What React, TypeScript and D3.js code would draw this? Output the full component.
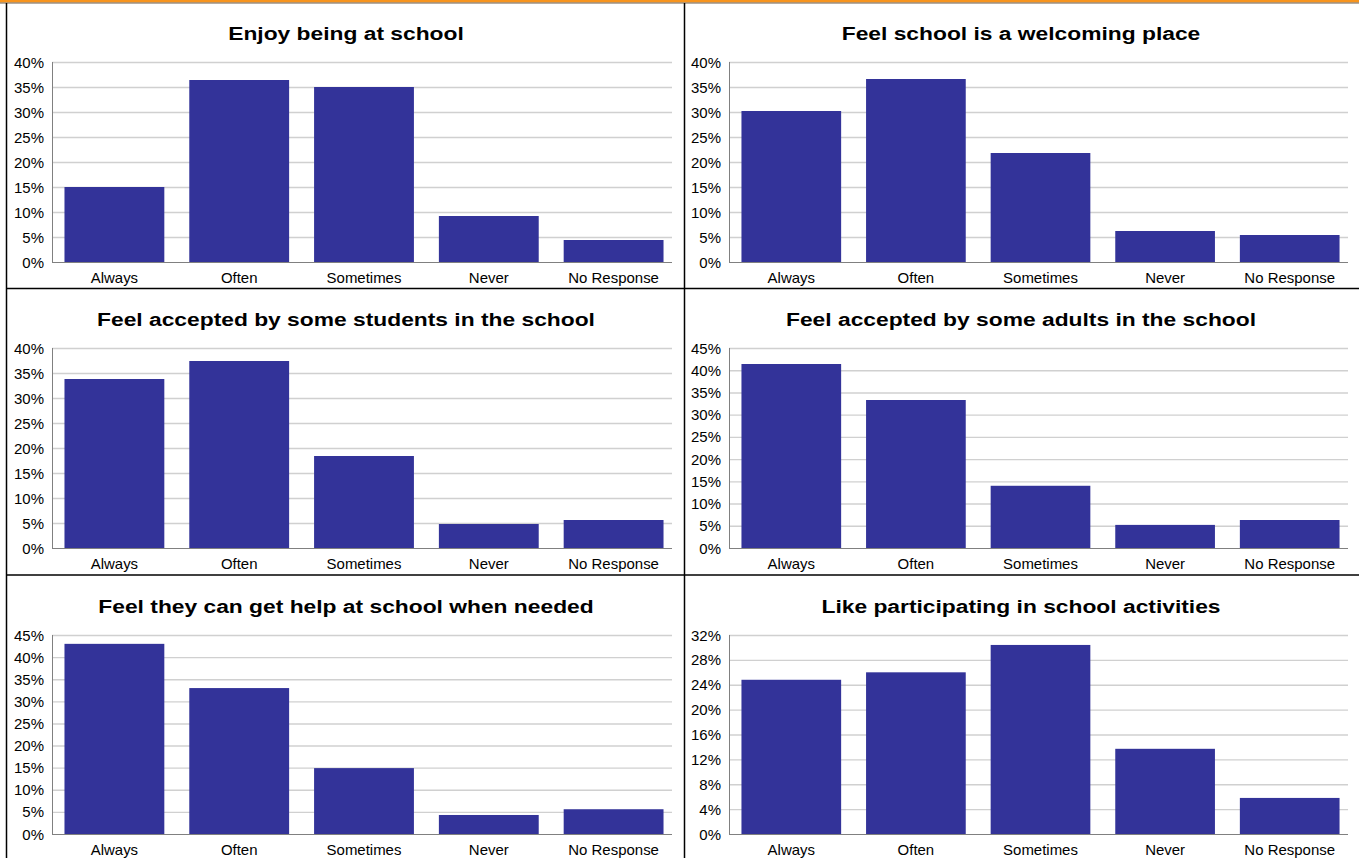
import React from "react";
import * as d3 from "d3";

const categories = ["Always", "Often", "Sometimes", "Never", "No Response"];

const titles = [
  "Enjoy being at school",
  "Feel school is a welcoming place",
  "Feel accepted by some students in the school",
  "Feel accepted by some adults in the school",
  "Feel they can get help at school when needed",
  "Like participating in school activities",
];

const enjoyValues = [15.0, 36.4, 35.0, 9.2, 4.4];
const welcomingValues = [30.2, 36.6, 21.8, 6.2, 5.4];
const studentsValues = [33.8, 37.4, 18.4, 4.8, 5.6];
const adultsValues = [41.4, 33.3, 14.0, 5.2, 6.3];
const helpValues = [43.0, 33.0, 14.9, 4.3, 5.6];
const activitiesValues = [24.8, 26.0, 30.4, 13.7, 5.8];

const ticks40 = [0, 5, 10, 15, 20, 25, 30, 35, 40];
const ticks45 = [0, 5, 10, 15, 20, 25, 30, 35, 40, 45];
const ticks32 = [0, 4, 8, 12, 16, 20, 24, 28, 32];

const series = [enjoyValues, welcomingValues, studentsValues, adultsValues, helpValues, activitiesValues];
const tickSets = [ticks40, ticks40, ticks40, ticks45, ticks45, ticks32];

const W = 1359;
const H = 858;
const colX = [[52, 676], [729, 1352]];
const colCenter = [346, 1021];
const rowY = [[62, 262], [348, 548], [635, 834]];
const titleY = [40, 326, 613];

const FONT = "'Liberation Sans', Arial, sans-serif";

function SText({
  x, y, sx, size, anchor, bold, children,
}: { x: number; y: number; sx: number; size: number; anchor: string; bold?: boolean; children: React.ReactNode }) {
  return (
    <text
      transform={`translate(${x},${y}) scale(${sx},1)`}
      textAnchor={anchor}
      fontFamily={FONT}
      fontWeight={bold ? "bold" : "normal"}
      fontSize={size}
      fill="#000"
    >
      {children}
    </text>
  );
}

function Panel({ idx }: { idx: number }) {
  const col = idx % 2;
  const row = Math.floor(idx / 2);
  const [x0, x1] = colX[col];
  const [yTop, yBot] = rowY[row];
  const ticks = tickSets[idx];
  const values = series[idx];
  const x = d3.scaleBand<string>().domain(categories).range([x0, x1]).paddingInner(0.2).paddingOuter(0.1);
  const y = d3.scaleLinear().domain([0, ticks[ticks.length - 1]]).range([yBot, yTop]);
  return (
    <g>
      <SText x={colCenter[col]} y={titleY[row]} sx={1.22} size={18.7} anchor="middle" bold>
        {titles[idx]}
      </SText>
      {ticks.map((t) => (
        <g key={t}>
          {t > 0 && <line x1={x0} x2={x1 - 4} y1={y(t) + 0.5} y2={y(t) + 0.5} stroke="#d0d0d0" strokeWidth={1.4} />}
          <SText x={x0 - 8} y={y(t) + 5.5} sx={1.07} size={14} anchor="end">
            {t}%
          </SText>
        </g>
      ))}
      {categories.map((c, i) => (
        <rect key={c} x={x(c)} y={y(values[i])} width={x.bandwidth()} height={yBot - y(values[i])} fill="#333399" />
      ))}
      <line x1={x0 + 0.5} x2={x0 + 0.5} y1={yTop} y2={yBot + 1} stroke="#808080" strokeWidth={1} />
      <line x1={x0} x2={x1 - 4} y1={yBot + 0.5} y2={yBot + 0.5} stroke="#808080" strokeWidth={1} />
      {categories.map((c) => (
        <SText key={c} x={(x(c) as number) + x.bandwidth() / 2} y={yBot + 21} sx={1.07} size={14} anchor="middle">
          {c}
        </SText>
      ))}
    </g>
  );
}

export default function App() {
  return (
    <svg width={W} height={H} style={{ position: "absolute", left: 0, top: 0, background: "#fff" }}>
      <rect x={0} y={0} width={W} height={H} fill="#fff" />
      <rect x={0} y={0} width={W} height={2.5} fill="#f7941d" />
      <line x1={0} x2={W} y1={3} y2={3} stroke="#6b5a48" strokeWidth={1} />
      <line x1={6.5} x2={6.5} y1={3} y2={H} stroke="#000" strokeWidth={1.5} />
      <line x1={684.5} x2={684.5} y1={3} y2={H} stroke="#000" strokeWidth={1.5} />
      <line x1={6} x2={W} y1={288.5} y2={288.5} stroke="#000" strokeWidth={1.5} />
      <line x1={6} x2={W} y1={575} y2={575} stroke="#000" strokeWidth={1.5} />
      {titles.map((_, i) => (
        <Panel key={i} idx={i} />
      ))}
    </svg>
  );
}
